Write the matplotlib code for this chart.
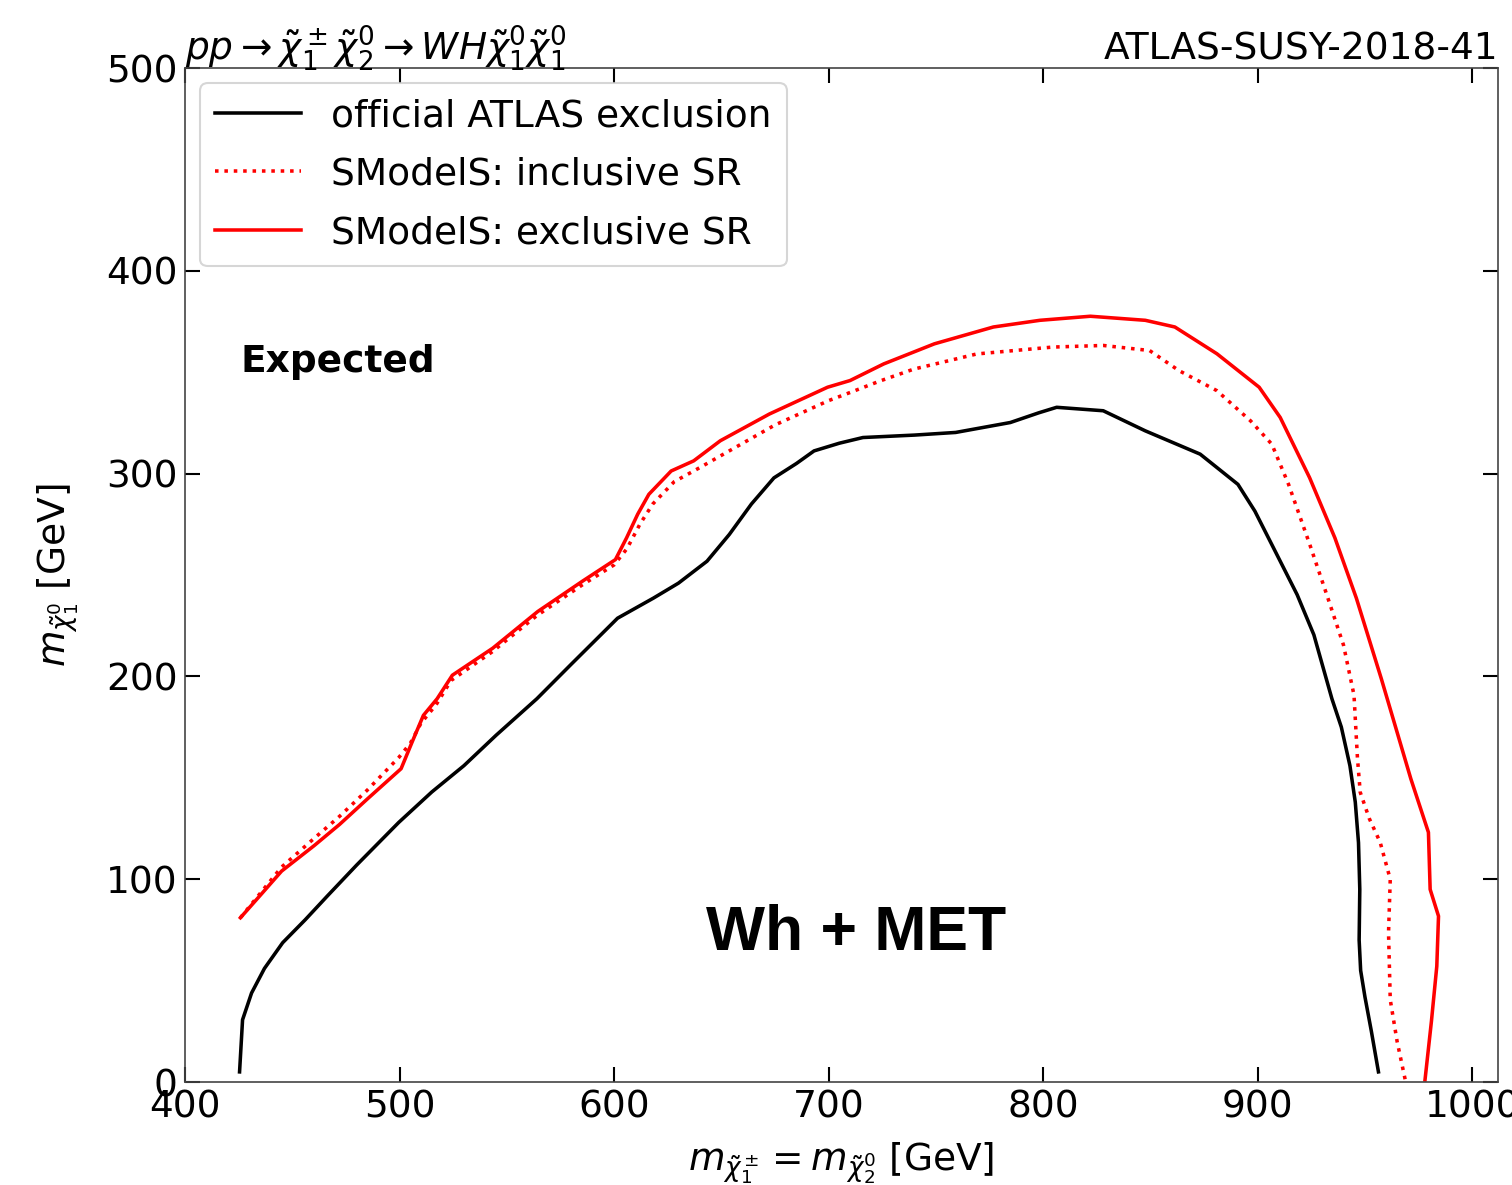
import matplotlib
matplotlib.use('Agg')
import matplotlib.pyplot as plt

# official ATLAS expected exclusion
atlas_x = [425.4, 426.8, 431.0, 437, 445.5, 456, 466.3, 480, 499.6, 515, 530, 545, 564, 580,
           601.6, 618.3, 630, 643.3, 653.7, 664, 674.5, 685, 693.2, 705, 716, 740, 759.2, 784.7, 798,
           806.3, 828, 847.6, 873.2, 890.8, 898.7, 906.6, 918.4, 926.2, 934.6, 939, 943, 945.5, 947,
           947.6, 947.3, 948, 950, 953, 956.3]
atlas_y = [5, 30.7, 43.9, 56, 68.7, 80, 91.7, 107, 128, 143, 156, 171, 189, 206,
           228.7, 238.6, 246, 256.8, 270, 285, 297.9, 305, 311.2, 315, 317.8, 319, 320.3, 325.2, 330,
           332.7, 331, 321.1, 309.6, 294.7, 281.5, 265, 240.3, 220.5, 189, 175, 156, 138, 118,
           95, 70, 55, 42, 25, 5]

# SModelS inclusive SR
incl_x = [425.8, 435, 445, 460, 472, 485, 499.6, 505, 510, 517, 524, 543, 564, 585, 600, 606, 612,
          618, 628, 640, 655, 675, 700, 710, 724, 739.6, 769, 804.4, 828, 849.6, 863.3, 881, 896.7,
          906.6, 914.4, 924.3, 932.2, 940, 944.9, 946.5, 947.8, 952, 957.1, 961.8, 961, 961.8, 965, 968.8]
incl_y = [81, 93, 106, 120, 131, 144, 160, 167, 177, 186, 198, 212, 230, 245, 255, 263, 275,
          285, 296, 303, 312, 324, 336, 340, 345.7, 351.5, 359, 362.4, 363.2, 360.7, 350.8, 340.9, 326,
          314.5, 294.7, 265, 240.3, 215.5, 190.8, 160, 142.9, 130, 118.2, 100, 73.6, 40.6, 20, 1]

# SModelS exclusive SR
excl_x = [425.8, 435, 445, 460.1, 472, 485, 500.7, 505.9, 511.1, 517.5, 524.6, 543.4, 564.4, 585.3,
          600.6, 605.8, 611, 616.2, 626.6, 637.1, 649.5, 672.4, 699.5, 710, 725.7, 749.3, 776.8, 798.5,
          822, 847.6, 861.4, 881, 900.7, 910.5, 924.2, 936, 946, 957.6, 971.4, 979.6, 980.4, 984.3,
          983.5, 981, 978]
excl_y = [81, 92, 104, 116.5, 127, 139.6, 154.5, 167.8, 180.8, 189, 200.6, 213.9, 232, 247,
          257.6, 268.3, 280, 289.8, 301.3, 306.3, 316.2, 329.4, 342.6, 345.9, 354.1, 364, 372.3, 375.6,
          377.6, 375.6, 372.3, 359.1, 342.6, 327.7, 298, 268.3, 238.6, 199, 149.5, 123.1, 95, 81.8,
          57.1, 30, 1]

fig = plt.figure(figsize=(10.08, 7.9), dpi=150)
ax = fig.add_axes([0.1224, 0.0869, 0.8683, 0.8557])

ax.plot(atlas_x, atlas_y, color='black', lw=1.7, label='official ATLAS exclusion')
ax.plot(incl_x, incl_y, color='red', lw=1.7, ls=':', label='SModelS: inclusive SR')
ax.plot(excl_x, excl_y, color='red', lw=1.7, label='SModelS: exclusive SR')

ax.set_xlim(400, 1012)
ax.set_ylim(0, 500)
ax.set_xticks([400, 500, 600, 700, 800, 900, 1000])
ax.set_yticks([0, 100, 200, 300, 400, 500])
ax.tick_params(direction='in', top=True, right=True, length=7, width=1, labelsize=18)
for s in ax.spines.values():
    s.set_color('#444444')

ax.set_xlabel(r'$m_{\tilde{\chi}_1^\pm} = m_{\tilde{\chi}_2^0}$ [GeV]', fontsize=18, labelpad=7)
ax.set_ylabel(r'$m_{\tilde{\chi}_1^0}$ [GeV]', fontsize=18, labelpad=12)
ax.set_title(r'$pp \rightarrow \tilde{\chi}_1^\pm \tilde{\chi}_2^0 \rightarrow WH \tilde{\chi}_1^0 \tilde{\chi}_1^0$',
             loc='left', fontsize=18, pad=2)
ax.set_title('ATLAS-SUSY-2018-41', loc='right', fontsize=18, pad=4)

ax.text(426, 355, 'Expected', fontsize=18, fontweight='bold', va='center')
ax.text(713, 73, 'Wh + MET', fontsize=30, fontweight='bold', family='Liberation Sans',
        ha='center', va='center')

ax.legend(loc='upper left', fontsize=18, handlelength=2.3, handletextpad=0.8,
          borderaxespad=0.4, labelspacing=0.6)

fig.savefig('out.png', dpi=150)
